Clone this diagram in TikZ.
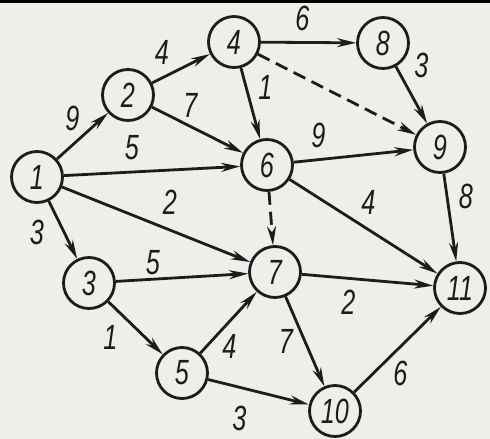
\documentclass[tikz,border=0pt]{standalone}
\usepackage{fontspec}
\usetikzlibrary{arrows.meta}
\newfontfamily\handfont[FakeStretch=0.72]{Liberation Sans}
\definecolor{paper}{HTML}{EFEEEA}
\definecolor{ink}{HTML}{1C1C1C}
\tikzset{
  vertex/.style={circle, draw=ink, line width=2.8pt, minimum size=51pt, inner sep=0pt,
    text=ink, font=\fontsize{35}{35}\selectfont\handfont\itshape},
  wlabel/.style={inner sep=0pt, text=ink, font=\fontsize{35}{35}\selectfont\handfont\itshape},
  arrow/.style={-{Stealth[length=19pt, width=9pt]}, line width=2.8pt, ink},
  arrowd/.style={arrow, dash pattern=on 13pt off 7pt},
}
\begin{document}
\begin{tikzpicture}[x=1pt, y=-1pt]
\fill[paper] (0,0) rectangle (490,439);
\fill[black] (0,0) rectangle (490,3);
\useasboundingbox (0,0) rectangle (490,439);

\node[vertex] (n1) at (37,177) {1};
\node[vertex] (n2) at (128,95) {2};
\node[vertex] (n4) at (234,42) {4};
\node[vertex] (n8) at (383,43) {8};
\node[vertex] (n6) at (267,165) {6};
\node[vertex] (n9) at (440,147) {9};
\node[vertex] (n3) at (89,283) {3};
\node[vertex] (n7) at (275,272) {7};
\node[vertex] (n11) at (460,288) {11};
\node[vertex] (n5) at (182,373) {5};
\node[vertex] (n10) at (335,411) {10};

% weighted arcs
\draw[arrow] (n1) -- node[wlabel, xshift=-10pt, yshift=18pt] {9} (n2);
\draw[arrow] (n2) -- node[wlabel, xshift=-19pt, yshift=16pt] {4} (n4);
\draw[arrow] (n2) -- node[wlabel, xshift=-7pt, yshift=25pt] {7} (n6);
\draw[arrow] (n1) -- node[wlabel, xshift=-20pt, yshift=23pt] {5} (n6);
\draw[arrow] (n1) -- node[wlabel, xshift=14pt, yshift=22pt] {2} (n7);
\draw[arrow] (n1) -- node[wlabel, xshift=-26pt, yshift=-2pt] {3} (n3);
\draw[arrow] (n4) -- node[wlabel, xshift=-6pt, yshift=24pt] {6} (n8);
\draw[arrow] (n4) -- node[wlabel, xshift=15pt, yshift=16pt] {1} (n6);
\draw[arrowd] (n4) -- (n9);
\draw[arrow] (n8) -- node[wlabel, xshift=10pt, yshift=30pt] {3} (n9);
\draw[arrow] (n6) -- node[wlabel, xshift=-35pt, yshift=21pt] {9} (n9);
\draw[arrow] (n9) -- node[wlabel, xshift=16pt, yshift=21pt] {8} (n11);
\draw[arrow] (n6) -- node[wlabel, xshift=5pt, yshift=24pt] {4} (n11);
\draw[arrowd] (n6) -- (n7);
\draw[arrow] (n3) -- node[wlabel, xshift=-29pt, yshift=15pt] {5} (n7);
\draw[arrow] (n3) -- node[wlabel, xshift=-25pt, yshift=-9pt] {1} (n5);
\draw[arrow] (n5) -- node[wlabel, xshift=1pt, yshift=-24pt] {4} (n7);
\draw[arrow] (n5) -- node[wlabel, xshift=-19pt, yshift=-26pt] {3} (n10);
\draw[arrow] (n7) -- node[wlabel, xshift=-19pt, yshift=-22pt] {2} (n11);
\draw[arrow] (n7) -- node[wlabel, xshift=-19pt, yshift=0pt] {7} (n10);
\draw[arrow] (n10) -- node[wlabel, xshift=3pt, yshift=-24pt] {6} (n11);
\end{tikzpicture}
\end{document}
